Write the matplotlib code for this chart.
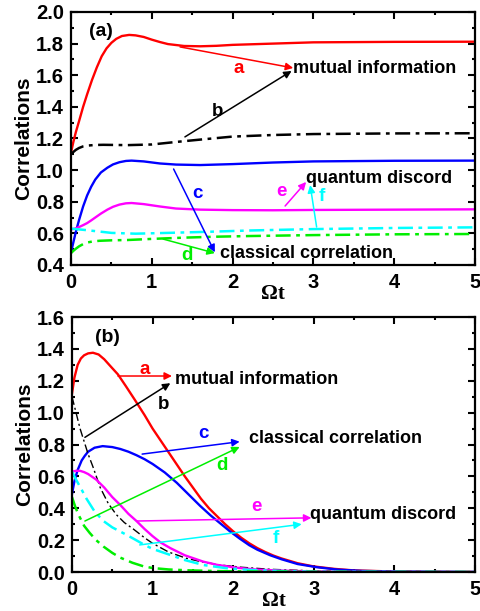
import matplotlib
matplotlib.use("Agg")
import matplotlib.pyplot as plt
from matplotlib.ticker import MultipleLocator, FormatStrFormatter

plt.rcParams['font.family'] = ['Liberation Sans', 'DejaVu Sans']
plt.rcParams['font.weight'] = 'bold'

# ---- panel (a) data ----
a_red_x = [0, 0.03, 0.06, 0.1, 0.15, 0.2, 0.26, 0.32, 0.38, 0.44, 0.5, 0.56, 0.63, 0.72, 0.8, 0.9, 1.0, 1.1, 1.2, 1.4, 1.6, 1.8, 2.0, 2.5, 3.0, 4.0, 5.0]
a_red_y = [1.11, 1.18, 1.24, 1.31, 1.40, 1.48, 1.57, 1.65, 1.72, 1.77, 1.805, 1.83, 1.848, 1.855, 1.852, 1.842, 1.825, 1.81, 1.797, 1.785, 1.783, 1.786, 1.792, 1.80, 1.808, 1.811, 1.812]

a_blk_x = [0, 0.03, 0.06, 0.1, 0.15, 0.2, 0.3, 0.4, 0.7, 1.0, 1.3, 1.6, 2.0, 2.5, 3.0, 4.0, 5.0]
a_blk_y = [1.10, 1.115, 1.128, 1.14, 1.15, 1.155, 1.159, 1.16, 1.158, 1.162, 1.178, 1.193, 1.212, 1.222, 1.228, 1.232, 1.233]

a_blu_x = [0, 0.03, 0.06, 0.1, 0.15, 0.2, 0.25, 0.3, 0.37, 0.45, 0.52, 0.6, 0.68, 0.75, 0.9, 1.1, 1.3, 1.6, 2.0, 2.5, 3.0, 4.0, 5.0]
a_blu_y = [0.48, 0.545, 0.61, 0.685, 0.77, 0.84, 0.895, 0.94, 0.985, 1.015, 1.036, 1.05, 1.058, 1.06, 1.055, 1.042, 1.035, 1.032, 1.038, 1.048, 1.055, 1.059, 1.06]

a_mag_x = [0, 0.05, 0.1, 0.15, 0.2, 0.25, 0.3, 0.37, 0.45, 0.52, 0.6, 0.68, 0.75, 0.9, 1.1, 1.3, 1.6, 2.0, 2.5, 3.0, 4.0, 5.0]
a_mag_y = [0.625, 0.63, 0.64, 0.652, 0.665, 0.682, 0.70, 0.725, 0.75, 0.768, 0.782, 0.79, 0.792, 0.785, 0.77, 0.757, 0.75, 0.747, 0.746, 0.748, 0.75, 0.752]

a_cya_x = [0, 0.2, 0.5, 0.8, 1.2, 1.7, 2.2, 3.0, 4.0, 5.0]
a_cya_y = [0.63, 0.62, 0.603, 0.598, 0.603, 0.61, 0.618, 0.627, 0.634, 0.638]

a_grn_x = [0, 0.03, 0.06, 0.1, 0.15, 0.2, 0.27, 0.35, 0.5, 0.7, 1.0, 1.4, 1.8, 2.2, 3.0, 4.0, 5.0]
a_grn_y = [0.475, 0.49, 0.503, 0.518, 0.532, 0.542, 0.549, 0.553, 0.556, 0.558, 0.565, 0.573, 0.579, 0.583, 0.589, 0.594, 0.596]

# ---- panel (b) data ----
b_red_x = [0, 0.03, 0.07, 0.11, 0.15, 0.2, 0.26, 0.33, 0.4, 0.48, 0.57, 0.67, 0.78, 0.9, 1.0, 1.1, 1.2, 1.3, 1.4, 1.5, 1.6, 1.7, 1.8, 1.9, 2.0, 2.1, 2.2, 2.3, 2.4, 2.5, 2.6, 2.8, 3.0, 3.25, 3.5, 4.0, 4.5, 5.0]
b_red_y = [1.12, 1.22, 1.30, 1.34, 1.36, 1.372, 1.376, 1.365, 1.335, 1.29, 1.24, 1.165, 1.08, 0.985, 0.90, 0.825, 0.75, 0.675, 0.60, 0.53, 0.46, 0.40, 0.35, 0.30, 0.255, 0.215, 0.18, 0.15, 0.125, 0.103, 0.085, 0.055, 0.035, 0.02, 0.01, 0.003, 0.001, 0.0]

b_blu_x = [0, 0.03, 0.07, 0.12, 0.16, 0.2, 0.28, 0.38, 0.5, 0.6, 0.7, 0.8, 0.9, 1.0, 1.15, 1.3, 1.45, 1.59, 1.72, 1.84, 1.96, 2.08, 2.2, 2.3, 2.46, 2.6, 2.8, 3.04, 3.3, 3.6, 4.0, 5.0]
b_blu_y = [0.49, 0.57, 0.64, 0.70, 0.73, 0.755, 0.78, 0.79, 0.784, 0.772, 0.755, 0.733, 0.708, 0.678, 0.625, 0.56, 0.485, 0.415, 0.355, 0.305, 0.255, 0.21, 0.168, 0.14, 0.105, 0.08, 0.05, 0.03, 0.015, 0.007, 0.003, 0.0]

b_blk_x = [0, 0.05, 0.1, 0.15, 0.2, 0.26, 0.35, 0.45, 0.55, 0.65, 0.76, 0.9, 1.0, 1.2, 1.42, 1.6, 1.84, 2.1, 2.46, 3.0, 3.5, 4.0, 5.0]
b_blk_y = [1.10, 1.0, 0.90, 0.82, 0.74, 0.66, 0.53, 0.43, 0.36, 0.31, 0.27, 0.215, 0.18, 0.125, 0.086, 0.065, 0.044, 0.03, 0.017, 0.007, 0.003, 0.001, 0.0]

b_mag_x = [0, 0.05, 0.1, 0.15, 0.2, 0.3, 0.4, 0.5, 0.6, 0.7, 0.8, 0.9, 1.0, 1.1, 1.22, 1.4, 1.63, 1.8, 2.04, 2.3, 2.66, 3.0, 3.5, 5.0]
b_mag_y = [0.63, 0.635, 0.635, 0.627, 0.615, 0.58, 0.53, 0.47, 0.42, 0.365, 0.32, 0.27, 0.225, 0.185, 0.15, 0.105, 0.065, 0.045, 0.027, 0.015, 0.008, 0.004, 0.001, 0.0]

b_cya_x = [0, 0.05, 0.1, 0.18, 0.28, 0.39, 0.5, 0.64, 0.76, 0.9, 1.0, 1.22, 1.4, 1.63, 1.9, 2.2, 2.6, 3.0, 5.0]
b_cya_y = [0.63, 0.58, 0.535, 0.46, 0.38, 0.32, 0.28, 0.243, 0.21, 0.17, 0.145, 0.107, 0.075, 0.044, 0.025, 0.013, 0.006, 0.002, 0.0]

b_grn_x = [0, 0.04, 0.08, 0.15, 0.22, 0.3, 0.39, 0.5, 0.6, 0.75, 0.885, 1.0, 1.2, 1.42, 1.8, 2.2, 3.0, 5.0]
b_grn_y = [0.47, 0.41, 0.36, 0.29, 0.245, 0.20, 0.16, 0.12, 0.09, 0.058, 0.036, 0.025, 0.016, 0.011, 0.006, 0.003, 0.001, 0.0]

RED, BLK, BLU, MAG, CYA, GRN = '#ff0000', '#000000', '#0000ff', '#ff00ff', '#00ffff', '#00ee00'
DASHDOT = (0, (6, 2.2, 1.5, 2.2))

fig = plt.figure(figsize=(4.81, 6.11), dpi=100)
ax1 = fig.add_axes([0.1476, 0.5663, 0.8399, 0.4141])
ax2 = fig.add_axes([0.1497, 0.0638, 0.8378, 0.4173])


def style_axes(ax, ymin, ymax):
    ax.set_xlim(0, 5)
    ax.set_ylim(ymin, ymax)
    ax.xaxis.set_major_locator(MultipleLocator(1))
    ax.xaxis.set_minor_locator(MultipleLocator(0.5))
    ax.yaxis.set_major_locator(MultipleLocator(0.2))
    ax.yaxis.set_minor_locator(MultipleLocator(0.1))
    ax.tick_params(which='both', direction='in', top=True, right=True, width=1.5)
    ax.tick_params(which='major', length=5, labelsize=14.5, pad=6)
    ax.tick_params(which='minor', length=2.5)
    ax.yaxis.set_tick_params(pad=5)
    ax.yaxis.set_major_formatter(FormatStrFormatter('%.1f'))
    for s in ax.spines.values():
        s.set_linewidth(1.6)
    for lab in ax.get_xticklabels() + ax.get_yticklabels():
        lab.set_fontweight('bold')
    ax.set_xlabel('Ωt', fontsize=15, fontweight='bold', labelpad=-6,
                  family=['Liberation Serif', 'DejaVu Serif'])
    ax.set_ylabel('Correlations', fontsize=15, fontweight='bold', labelpad=2)


def arrow(ax, start, end, color):
    ax.annotate('', xy=end, xytext=start,
                arrowprops=dict(arrowstyle='-|>', color=color, lw=1.1,
                                mutation_scale=11, shrinkA=0, shrinkB=0))


# ---- panel (a) ----
ax1.plot(a_red_x, a_red_y, color=RED, lw=1.7)
ax1.plot(a_blk_x, a_blk_y, color=BLK, lw=1.8, ls=DASHDOT)
ax1.plot(a_blu_x, a_blu_y, color=BLU, lw=1.7)
ax1.plot(a_mag_x, a_mag_y, color=MAG, lw=1.7)
ax1.plot(a_cya_x, a_cya_y, color=CYA, lw=1.8, ls=DASHDOT)
ax1.plot(a_grn_x, a_grn_y, color=GRN, lw=1.8, ls=DASHDOT)
style_axes(ax1, 0.4, 2.0)

arrow(ax1, (1.35, 1.779), (2.75, 1.646), RED)
arrow(ax1, (1.41, 1.21), (2.73, 1.627), BLK)
arrow(ax1, (1.27, 1.007), (1.78, 0.48), BLU)
arrow(ax1, (1.14, 0.564), (1.78, 0.475), GRN)
arrow(ax1, (2.65, 0.773), (2.91, 0.925), MAG)
arrow(ax1, (3.04, 0.64), (2.96, 0.905), CYA)

lab = dict(fontsize=13.5, fontweight='bold', ha='center', va='center')
ax1.text(2.08, 1.645, 'a', color=RED, **lab)
ax1.text(1.81, 1.37, 'b', color=BLK, **lab)
ax1.text(1.57, 0.85, 'c', color=BLU, **lab)
ax1.text(1.44, 0.46, 'd', color=GRN, **lab)
ax1.text(2.60, 0.865, 'e', color=MAG, **lab)
ax1.text(3.10, 0.835, 'f', color=CYA, **lab)
txt = dict(fontsize=13, fontweight='bold', ha='left', va='center', color='black')
ax1.text(2.75, 1.64, 'mutual information', **txt)
ax1.text(1.84, 0.47, 'classical correlation', **txt)
ax1.text(2.91, 0.944, 'quantum discord', **txt)
ax1.text(0.22, 1.875, '(a)', fontsize=14, fontweight='bold', ha='left', va='center')

# ---- panel (b) ----
ax2.plot(b_red_x, b_red_y, color=RED, lw=1.7)
ax2.plot(b_blu_x, b_blu_y, color=BLU, lw=1.7)
ax2.plot(b_blk_x, b_blk_y, color=BLK, lw=1.0, ls=DASHDOT)
ax2.plot(b_mag_x, b_mag_y, color=MAG, lw=1.7)
ax2.plot(b_cya_x, b_cya_y, color=CYA, lw=1.8, ls=DASHDOT)
ax2.plot(b_grn_x, b_grn_y, color=GRN, lw=1.8, ls=DASHDOT)
style_axes(ax2, 0.0, 1.6)

arrow(ax2, (0.57, 1.23), (1.24, 1.23), RED)
arrow(ax2, (0.16, 0.845), (1.22, 1.185), BLK)
arrow(ax2, (0.87, 0.74), (2.08, 0.818), BLU)
arrow(ax2, (0.16, 0.32), (2.08, 0.785), GRN)
arrow(ax2, (0.80, 0.32), (2.97, 0.34), MAG)
arrow(ax2, (0.84, 0.17), (2.85, 0.30), CYA)

ax2.text(0.90, 1.27, 'a', color=RED, **lab)
ax2.text(1.13, 1.05, 'b', color=BLK, **lab)
ax2.text(1.63, 0.87, 'c', color=BLU, **lab)
ax2.text(1.86, 0.67, 'd', color=GRN, **lab)
ax2.text(2.29, 0.41, 'e', color=MAG, **lab)
ax2.text(2.53, 0.21, 'f', color=CYA, **lab)
ax2.text(1.28, 1.21, 'mutual information', **txt)
ax2.text(2.20, 0.84, 'classical correlation', **txt)
ax2.text(2.95, 0.36, 'quantum discord', **txt)
ax2.text(0.28, 1.47, '(b)', fontsize=14, fontweight='bold', ha='left', va='center')

fig.savefig('out.png', dpi=100)
